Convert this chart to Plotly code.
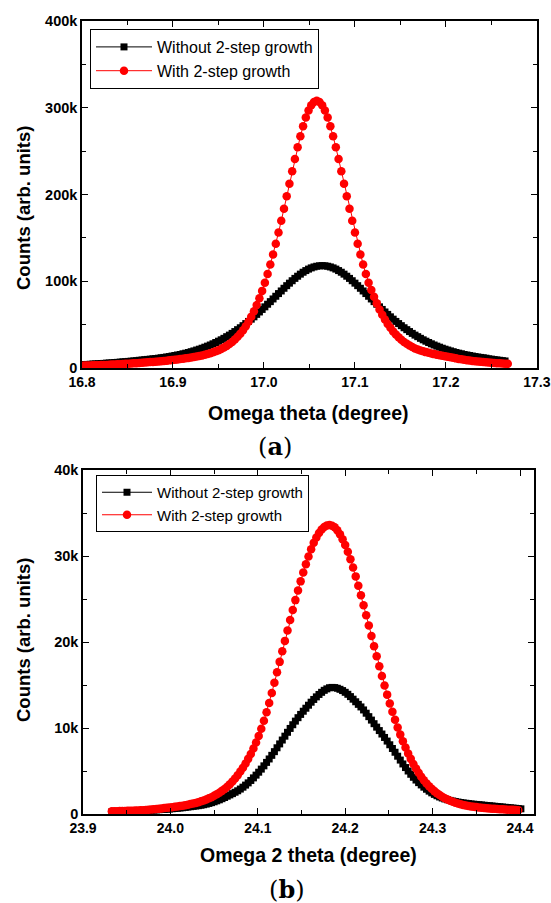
import plotly.graph_objects as go

# ---------------- data ----------------
# Panel (a): omega (rocking) scan, counts in thousands
a_x_start = 16.800
a_x_step = 0.003
a_without_k = [
    3.8, 4.0, 4.1, 4.3, 4.6, 4.7, 4.9, 5.2, 5.3, 5.6,
    5.8, 6.0, 6.3, 6.5, 6.8, 7.1, 7.3, 7.6, 7.9, 8.2,
    8.5, 8.9, 9.2, 9.6, 9.9, 10.2, 10.6, 10.9, 11.3, 11.8,
    12.2, 12.7, 13.2, 13.8, 14.4, 15.0, 15.6, 16.4, 17.1, 17.9,
    18.8, 19.7, 20.7, 21.7, 22.8, 24.0, 25.2, 26.5, 27.9, 29.4,
    30.9, 32.5, 34.2, 36.1, 37.9, 39.9, 42.0, 44.2, 46.4, 48.8,
    51.2, 53.7, 56.3, 59.0, 61.8, 64.6, 67.5, 70.5, 73.5, 76.5,
    79.6, 82.7, 85.8, 88.8, 91.9, 94.9, 97.8, 100.6, 103.3, 105.8,
    108.2, 110.4, 112.3, 114.0, 115.4, 116.5, 117.3, 117.8, 118.0,
    117.8, 117.3, 116.5, 115.4, 114.0, 112.3, 110.4, 108.2, 105.8, 103.3,
    100.6, 97.8, 94.9, 91.9, 88.8, 85.8, 82.7, 79.6, 76.5, 73.5,
    70.5, 67.5, 64.6, 61.8, 59.0, 56.3, 53.7, 51.2, 48.8, 46.4,
    44.2, 42.0, 39.9, 37.9, 36.1, 34.2, 32.5, 30.9, 29.4, 27.9,
    26.5, 25.2, 24.0, 22.8, 21.7, 20.7, 19.7, 18.8, 17.9, 17.1,
    16.4, 15.6, 15.0, 14.4, 13.8, 13.2, 12.7, 12.2, 11.8, 11.3,
    10.6, 10.2, 9.7, 9.3, 8.9, 8.5, 8.1,
]
a_with_k = [
    2.7, 2.8, 2.9, 3.0, 3.1, 3.2, 3.3, 3.4, 3.5, 3.6,
    3.8, 3.9, 4.1, 4.2, 4.4, 4.6, 4.8, 5.0, 5.2, 5.4,
    5.6, 5.8, 6.0, 6.3, 6.5, 6.8, 7.0, 7.3, 7.6, 7.9,
    8.2, 8.5, 8.8, 9.2, 9.6, 9.9, 10.3, 10.7, 11.2, 11.6,
    12.1, 12.7, 13.2, 13.9, 14.5, 15.3, 16.1, 17.0, 18.1, 19.2,
    20.5, 22.0, 23.6, 25.5, 27.6, 30.1, 32.8, 36.0, 39.5, 43.6,
    48.1, 53.2, 59.0, 65.4, 72.5, 80.3, 88.9, 98.2, 108.3, 119.2,
    130.9, 143.2, 156.2, 169.7, 183.7, 198.0, 212.4, 226.8, 240.9, 254.4,
    267.1, 278.6, 288.7, 296.9, 303.0, 306.7, 308.0,
    306.7, 303.0, 296.9, 288.7, 278.6, 267.1, 254.4, 240.9, 226.8, 212.4,
    198.0, 183.7, 169.7, 156.2, 143.2, 130.9, 119.2, 108.3, 98.2, 90.0,
    82.0, 74.5, 67.5, 61.5, 55.8, 50.8, 46.3, 42.2, 38.6, 35.4,
    32.6, 30.0, 27.9, 26.0, 24.2, 22.5, 21.3, 20.2, 19.2, 18.3,
    17.5, 16.7, 16.0, 15.3, 14.7, 14.1, 13.5, 12.9, 12.3, 11.7,
    11.1, 10.5, 10.0, 9.5, 9.0, 8.6, 8.2, 7.8, 7.5, 7.2,
    6.9, 6.6, 6.3, 6.0, 5.8, 5.6, 5.4, 5.2, 5.0, 4.8,
]

# Panel (b): omega-2theta scan, counts in thousands
b_x_start = 23.933
b_x_step = 0.003
b_without_k = [
    0.25, 0.26, 0.27, 0.28, 0.29, 0.30, 0.31, 0.32, 0.33, 0.34,
    0.36, 0.37, 0.39, 0.40, 0.42, 0.44, 0.46, 0.48, 0.50, 0.52,
    0.54, 0.56, 0.58, 0.61, 0.64, 0.67, 0.70, 0.73, 0.77, 0.81,
    0.85, 0.89, 0.93, 0.97, 1.02, 1.08, 1.15, 1.23, 1.32, 1.42,
    1.53, 1.65, 1.78, 1.92, 2.07, 2.22, 2.37, 2.53, 2.70, 2.90,
    3.12, 3.36, 3.62, 3.90, 4.20, 4.52, 4.86, 5.22, 5.60, 6.00,
    6.40, 6.82, 7.25, 7.70, 8.15, 8.60, 9.05, 9.50, 9.95, 10.38,
    10.80, 11.20, 11.58, 11.95, 12.30, 12.65, 13.00, 13.32, 13.62, 13.90,
    14.15, 14.38, 14.55, 14.68, 14.72, 14.70, 14.62, 14.50, 14.35, 14.15,
    13.92, 13.65, 13.35, 13.05, 12.75, 12.45, 12.10, 11.72, 11.32, 10.92,
    10.50, 10.10, 9.70, 9.30, 8.90, 8.48, 8.05, 7.62, 7.18, 6.72,
    6.27, 5.82, 5.40, 5.00, 4.62, 4.27, 3.95, 3.65, 3.38, 3.12,
    2.88, 2.66, 2.46, 2.28, 2.12, 1.98, 1.86, 1.75, 1.66, 1.58,
    1.51, 1.45, 1.39, 1.34, 1.29, 1.25, 1.21, 1.17, 1.14, 1.11,
    1.08, 1.05, 1.02, 0.99, 0.96, 0.93, 0.90, 0.87, 0.84, 0.81,
    0.78, 0.75, 0.72, 0.69, 0.66, 0.63, 0.60,
]
b_with_k = [
    0.31, 0.32, 0.33, 0.34, 0.35, 0.36, 0.37, 0.38, 0.39, 0.41,
    0.42, 0.43, 0.45, 0.47, 0.49, 0.52, 0.55, 0.58, 0.61, 0.65,
    0.69, 0.72, 0.76, 0.79, 0.83, 0.87, 0.92, 0.97, 1.03, 1.09,
    1.15, 1.22, 1.29, 1.38, 1.47, 1.57, 1.68, 1.82, 1.96, 2.12,
    2.29, 2.48, 2.69, 2.91, 3.16, 3.45, 3.78, 4.13, 4.52, 4.93,
    5.38, 5.88, 6.41, 6.97, 7.62, 8.32, 9.08, 9.91, 10.83, 11.84,
    12.92, 14.08, 15.26, 16.48, 17.69, 18.92, 20.13, 21.35, 22.55, 23.72,
    24.87, 25.98, 27.05, 28.07, 29.04, 29.95, 30.79, 31.55, 32.16, 32.67,
    33.07, 33.36, 33.54, 33.60,
    33.53, 33.33, 33.00, 32.54, 31.96, 31.27, 30.49, 29.61, 28.65, 27.63,
    26.55, 25.43, 24.28, 23.10, 21.91, 20.71, 19.52, 18.34, 17.18, 16.05,
    14.95, 13.88, 12.86, 11.88, 10.95, 10.07, 9.23, 8.45, 7.72, 7.04,
    6.41, 5.82, 5.29, 4.79, 4.34, 3.93, 3.56, 3.23, 2.93, 2.66,
    2.41, 2.20, 2.00, 1.83, 1.68, 1.54, 1.42, 1.31, 1.22, 1.13,
    1.06, 0.99, 0.94, 0.88, 0.84, 0.80, 0.76, 0.72, 0.69, 0.67,
    0.64, 0.62, 0.60, 0.58, 0.56, 0.54, 0.52, 0.50, 0.49, 0.48,
    0.46, 0.45,
]

series_names = ["Without 2-step growth", "With 2-step growth"]
a_xticks = [16.8, 16.9, 17.0, 17.1, 17.2, 17.3]
b_xticks = [23.9, 24.0, 24.1, 24.2, 24.3, 24.4]


def scan_x(start, step, n):
    return [round(start + step * i, 4) for i in range(n)]


def counts(vals_k):
    return [v * 1000 for v in vals_k]


# ---------------- figure ----------------
W, H = 551, 903
fig = go.Figure()

black_marker = dict(symbol="square", size=7, color="black")
red_marker = dict(symbol="circle", size=8.5, color="red")

fig.add_trace(go.Scatter(
    x=scan_x(a_x_start, a_x_step, len(a_without_k)), y=counts(a_without_k),
    mode="lines+markers", name=series_names[0], line=dict(color="black", width=1),
    marker=black_marker, xaxis="x", yaxis="y", legend="legend"))
fig.add_trace(go.Scatter(
    x=scan_x(a_x_start, a_x_step, len(a_with_k)), y=counts(a_with_k),
    mode="lines+markers", name=series_names[1], line=dict(color="red", width=1),
    marker=red_marker, xaxis="x", yaxis="y", legend="legend"))
fig.add_trace(go.Scatter(
    x=scan_x(b_x_start, b_x_step, len(b_without_k)), y=counts(b_without_k),
    mode="lines+markers", name=series_names[0], line=dict(color="black", width=1),
    marker=black_marker, xaxis="x2", yaxis="y2", legend="legend2"))
fig.add_trace(go.Scatter(
    x=scan_x(b_x_start, b_x_step, len(b_with_k)), y=counts(b_with_k),
    mode="lines+markers", name=series_names[1], line=dict(color="red", width=1),
    marker=red_marker, xaxis="x2", yaxis="y2", legend="legend2"))

xtickfont = dict(family="Liberation Sans", size=14, color="black", weight="bold")
ytickfont = dict(family="Liberation Sans", size=14.5, color="black", weight="bold")
base = dict(showline=True, linecolor="black", linewidth=1.5, mirror="ticks",
            ticks="inside", ticklen=6, tickwidth=1.3, tickcolor="black",
            showgrid=False, zeroline=False, automargin=False,
            ticklabeloverflow="allow")
minor_style = dict(ticks="inside", ticklen=4, tickwidth=1.2, tickcolor="black", showgrid=False)


def px_x(p):
    return p / W


def px_y(p):
    return 1 - p / H


fig.update_layout(
    width=W, height=H,
    margin=dict(l=0, r=0, t=0, b=0, autoexpand=False),
    paper_bgcolor="white", plot_bgcolor="white",
    xaxis=dict(**base, tickfont=xtickfont, domain=[px_x(82), px_x(537)], anchor="y",
               range=[16.8, 17.3001], tickvals=a_xticks, tickformat=".1f",
               minor=dict(**minor_style, dtick=0.05, tick0=16.8)),
    yaxis=dict(**base, tickfont=ytickfont, domain=[px_y(368), px_y(21)], anchor="x",
               range=[0, 400000], dtick=100000,
               minor=dict(**minor_style, dtick=50000)),
    xaxis2=dict(**base, tickfont=xtickfont, domain=[px_x(83), px_x(534)], anchor="y2",
                range=[23.9, 24.416], tickvals=b_xticks, tickformat=".1f",
                minor=dict(**minor_style, dtick=0.05, tick0=23.9)),
    yaxis2=dict(**base, tickfont=ytickfont, domain=[px_y(814), px_y(470)], anchor="x2",
                range=[0, 40000], dtick=10000,
                minor=dict(**minor_style, dtick=5000)),
    legend=dict(x=px_x(90), y=px_y(29), xanchor="left", yanchor="top",
                bgcolor="white", bordercolor="black", borderwidth=1,
                font=dict(family="Liberation Sans", size=16, color="black"),
                tracegroupgap=0, itemwidth=56),
    legend2=dict(x=px_x(96), y=px_y(475), xanchor="left", yanchor="top",
                 bgcolor="white", bordercolor="black", borderwidth=1,
                 font=dict(family="Liberation Sans", size=15, color="black"),
                 tracegroupgap=0, itemwidth=50),
    showlegend=True,
)

title_font_x = dict(family="Liberation Sans", size=19.5, color="black", weight="bold")
title_font_y = dict(family="Liberation Sans", size=18.5, color="black", weight="bold")
label_font = dict(family="DejaVu Serif", size=24, color="black")
annos = [
    dict(text="Counts (arb. units)", x=px_x(23), y=px_y(208), textangle=-90, font=title_font_y),
    dict(text="Counts (arb. units)", x=px_x(23), y=px_y(640), textangle=-90, font=title_font_y),
    dict(text="Omega theta (degree)", x=px_x(308), y=px_y(413), font=title_font_x),
    dict(text="Omega 2 theta (degree)", x=px_x(308), y=px_y(855), font=title_font_x),
    dict(text="(<b>a</b>)", x=px_x(275), y=px_y(446), font=label_font),
    dict(text="(<b>b</b>)", x=px_x(287), y=px_y(889), font=label_font),
]
for a in annos:
    fig.add_annotation(xref="paper", yref="paper", showarrow=False,
                       xanchor="center", yanchor="middle", **a)

# Remove the browser's default 8 px body margin so the figure fills the window.
fig.write_html("out.html", config={"displayModeBar": False},
               post_script="document.body.style.margin='0';")
